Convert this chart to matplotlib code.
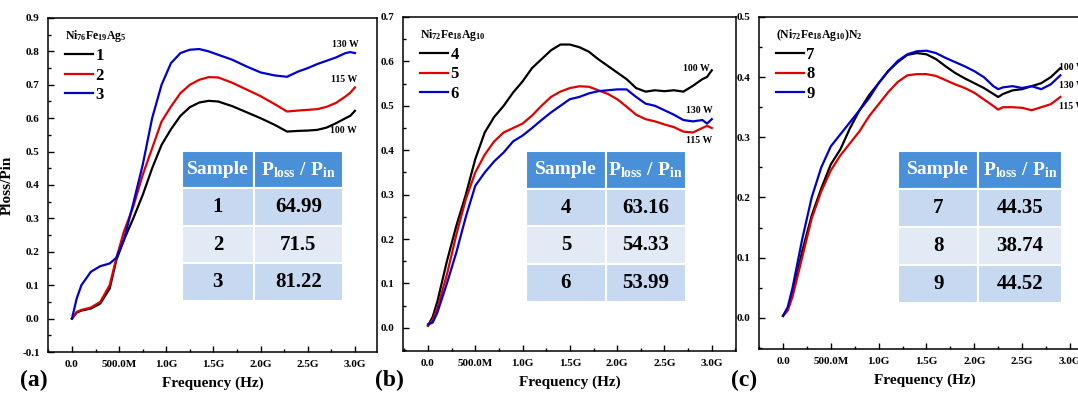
import matplotlib
matplotlib.use("Agg")
import matplotlib.pyplot as plt
from matplotlib.ticker import MultipleLocator, FixedLocator

plt.rcParams['font.family'] = ['Liberation Serif', 'DejaVu Serif']
plt.rcParams['font.weight'] = 'bold'
plt.rcParams['mathtext.fontset'] = 'custom'
plt.rcParams['mathtext.rm'] = 'Liberation Serif'
plt.rcParams['mathtext.bf'] = 'Liberation Serif:bold'
plt.rcParams['mathtext.it'] = 'Liberation Serif:italic'

# ---- data (frequency in GHz, Ploss/Pin) ----
freq_a = [0, 0.05, 0.1, 0.2, 0.3, 0.4, 0.47, 0.55, 0.65, 0.75, 0.85, 0.95, 1.05, 1.15, 1.25, 1.35,
          1.45, 1.55, 1.7, 1.85, 2.0, 2.15, 2.28, 2.4, 2.5, 2.6, 2.7, 2.8, 2.9, 2.95, 3.0]
s1 = [0, 0.018, 0.024, 0.03, 0.045, 0.09, 0.175, 0.235, 0.30, 0.37, 0.45, 0.52, 0.567, 0.607, 0.633, 0.647,
      0.652, 0.65, 0.636, 0.618, 0.60, 0.58, 0.56, 0.562, 0.563, 0.565, 0.572, 0.585, 0.60, 0.607, 0.622]
s2 = [0, 0.02, 0.026, 0.033, 0.05, 0.10, 0.18, 0.26, 0.335, 0.43, 0.51, 0.59, 0.635, 0.675, 0.70, 0.715,
      0.723, 0.722, 0.706, 0.686, 0.666, 0.642, 0.62, 0.623, 0.625, 0.627, 0.634, 0.646, 0.665, 0.676, 0.692]
s3 = [0, 0.06, 0.10, 0.14, 0.157, 0.165, 0.182, 0.235, 0.345, 0.46, 0.60, 0.70, 0.765, 0.795, 0.805, 0.807,
      0.80, 0.79, 0.775, 0.755, 0.737, 0.728, 0.724, 0.74, 0.75, 0.762, 0.772, 0.782, 0.795, 0.798, 0.795]

freq_b = [0, 0.05, 0.1, 0.2, 0.3, 0.4, 0.5, 0.6, 0.7, 0.8, 0.9, 1.0, 1.1, 1.2, 1.3, 1.4, 1.5, 1.6, 1.7,
          1.8, 1.9, 2.0, 2.1, 2.2, 2.3, 2.4, 2.5, 2.6, 2.7, 2.8, 2.9, 2.95, 3.0]
s4 = [0.005, 0.025, 0.06, 0.15, 0.23, 0.30, 0.38, 0.44, 0.475, 0.50, 0.53, 0.555, 0.585, 0.605, 0.625,
      0.638, 0.638, 0.632, 0.622, 0.605, 0.59, 0.575, 0.56, 0.54, 0.532, 0.535, 0.533, 0.535, 0.532, 0.545,
      0.56, 0.565, 0.58]
s5 = [0.005, 0.018, 0.045, 0.12, 0.21, 0.29, 0.35, 0.39, 0.42, 0.44, 0.45, 0.46, 0.478, 0.50, 0.52,
      0.532, 0.54, 0.544, 0.543, 0.535, 0.527, 0.515, 0.498, 0.48, 0.47, 0.465, 0.458, 0.452, 0.442, 0.44,
      0.45, 0.455, 0.45]
s6 = [0.008, 0.012, 0.035, 0.10, 0.17, 0.25, 0.32, 0.35, 0.375, 0.395, 0.42, 0.433, 0.45, 0.468, 0.485,
      0.50, 0.515, 0.52, 0.528, 0.533, 0.535, 0.537, 0.537, 0.52, 0.505, 0.50, 0.49, 0.48, 0.468, 0.465,
      0.468, 0.46, 0.47]

freq_c = [0, 0.05, 0.1, 0.2, 0.3, 0.4, 0.5, 0.6, 0.7, 0.8, 0.9, 1.0, 1.1, 1.2, 1.3, 1.4, 1.5, 1.6, 1.7,
          1.8, 1.9, 2.0, 2.1, 2.2, 2.25, 2.3, 2.4, 2.5, 2.6, 2.7, 2.8, 2.9]
s7 = [0.003, 0.015, 0.04, 0.11, 0.17, 0.215, 0.255, 0.28, 0.315, 0.345, 0.37, 0.39, 0.41, 0.425, 0.437,
      0.44, 0.438, 0.43, 0.418, 0.407, 0.398, 0.39, 0.382, 0.372, 0.367, 0.372, 0.378, 0.38, 0.385, 0.39,
      0.40, 0.415]
s8 = [0.003, 0.012, 0.035, 0.10, 0.165, 0.21, 0.245, 0.27, 0.29, 0.31, 0.335, 0.355, 0.375, 0.392, 0.403,
      0.405, 0.405, 0.402, 0.395, 0.388, 0.382, 0.374, 0.363, 0.352, 0.346, 0.35, 0.35, 0.349, 0.345, 0.35,
      0.355, 0.367]
s9 = [0.003, 0.018, 0.05, 0.13, 0.20, 0.25, 0.285, 0.305, 0.325, 0.345, 0.365, 0.39, 0.41, 0.427, 0.438,
      0.443, 0.444, 0.44, 0.432, 0.425, 0.418, 0.41, 0.40, 0.385, 0.38, 0.383, 0.385, 0.382, 0.385, 0.38,
      0.388, 0.403]

titles = [r"$\mathbf{Ni_{76}Fe_{19}Ag_{5}}$", r"$\mathbf{Ni_{72}Fe_{18}Ag_{10}}$",
          r"$\mathbf{(Ni_{72}Fe_{18}Ag_{10})N_{2}}$"]
samples = [["1", "2", "3"], ["4", "5", "6"], ["7", "8", "9"]]
ratios = [["64.99", "71.5", "81.22"], ["63.16", "54.33", "53.99"], ["44.35", "38.74", "44.52"]]
powers = [["100 W", "115 W", "130 W"], ["100 W", "115 W", "130 W"], ["100 W", "115 W", "130 W"]]
xtick_vals = [0, 0.5, 1.0, 1.5, 2.0, 2.5, 3.0]
xtick_labels = ["0.0", "500.0M", "1.0G", "1.5G", "2.0G", "2.5G", "3.0G"]
panel_tags = ["(a)", "(b)", "(c)"]

colors = ["#000000", "#e00000", "#0000cc"]
hdr_color = "#4a90d9"
row_colors = ["#c6d9f1", "#e2eaf6", "#c6d9f1"]

fig = plt.figure(figsize=(10.78, 3.96), dpi=100)
W, H = 1078.0, 396.0
# axes boxes in pixels (left, top, right, bottom)
boxes = [(48, 18, 377, 352), (403, 17, 736, 351), (759, 17, 1090, 349)]
ylims = [(-0.1, 0.9), (-0.052, 0.7), (-0.052, 0.5)]
xlims = [(-0.254, 3.234), (-0.264, 3.256), (-0.251, 3.21)]
table_boxes = [(0.407, 0.153, 0.489, 0.449), (0.369, 0.147, 0.48, 0.452), (0.42, 0.139, 0.495, 0.458)]
col_w = [(0.447, 0.553), (0.5, 0.5), (0.49, 0.51)]
# label offsets (points) from the end of each curve: 100 W, 115 W, 130 W
ann_offsets = [
    [(-8, -14.5, 'center'), (-8, 5.5, 'center'), (-7, 6.5, 'center')],
    [(-11, 1.5, 'center'), (-9, -9, 'center'), (-9, 6.5, 'center')],
    [(-1, 0.5, 'left'), (-1, -7, 'left'), (-1, -7, 'left')],
]
data = [(freq_a, [s1, s2, s3]), (freq_b, [s4, s5, s6]), (freq_c, [s7, s8, s9])]

for i in range(3):
    l, t, r, b = boxes[i]
    ax = fig.add_axes([l / W, 1 - b / H, (r - l) / W, (b - t) / H])
    f, series = data[i]
    for k in range(3):
        ax.plot(f, series[k], color=colors[k], lw=1.6, label=samples[i][k])
    ax.set_xlim(*xlims[i])
    ax.set_ylim(*ylims[i])
    ax.xaxis.set_major_locator(FixedLocator(xtick_vals))
    ax.set_xticklabels(xtick_labels)
    ax.xaxis.set_minor_locator(MultipleLocator(0.25))
    ax.yaxis.set_major_locator(MultipleLocator(0.1))
    ax.yaxis.set_minor_locator(MultipleLocator(0.05))
    ax.yaxis.set_major_formatter(plt.FormatStrFormatter('%.1f'))
    ax.tick_params(which='both', direction='in', top=False, right=False, labelsize=8, width=1.0)
    ax.tick_params(which='major', length=4, pad=6)
    ax.tick_params(which='minor', length=2)
    for sp in ax.spines.values():
        sp.set_linewidth(1.1)
    ax.set_xlabel("Frequency (Hz)", fontsize=11, fontweight='bold', labelpad=5)
    if i == 0:
        ax.set_ylabel("Ploss/Pin", fontsize=11, fontweight='bold', labelpad=6)

    leg = ax.legend(title=titles[i], loc='upper left', bbox_to_anchor=(0.02, 1.0), frameon=False,
                    prop={'size': 12, 'weight': 'bold'}, title_fontsize=8.5, handlelength=1.7,
                    handletextpad=0.15, labelspacing=0.2, borderaxespad=0.2, alignment='left')
    leg._legend_box.sep = 3

    for k in range(3):
        dx, dy, ha = ann_offsets[i][k]
        ax.annotate(powers[i][k], xy=(f[-1], series[k][-1]), xytext=(dx, dy), textcoords='offset points',
                    fontsize=7, fontweight='bold', ha=ha, va='center', annotation_clip=False)

    cells = [[samples[i][k], ratios[i][k]] for k in range(3)]
    tb = ax.table(cellText=cells, colLabels=["Sample", r"$\mathbf{P_{loss}\ /\ P_{in}}$"],
                  bbox=list(table_boxes[i]), cellLoc='center', colWidths=list(col_w[i]))
    tb.auto_set_font_size(False)
    for (rr, cc), cell in tb.get_celld().items():
        cell.set_edgecolor('white')
        cell.set_linewidth(1.5)
        if rr == 0:
            cell.set_facecolor(hdr_color)
            cell.get_text().set_color('white')
            cell.get_text().set_fontsize(14)
        else:
            cell.set_facecolor(row_colors[rr - 1])
            cell.get_text().set_fontsize(15)
        cell.get_text().set_fontweight('bold')

    fig.text((l - 28) / W, 1 - 380 / H, panel_tags[i], fontsize=17, fontweight='bold', va='center', ha='left')

fig.savefig("out.png", dpi=100)
